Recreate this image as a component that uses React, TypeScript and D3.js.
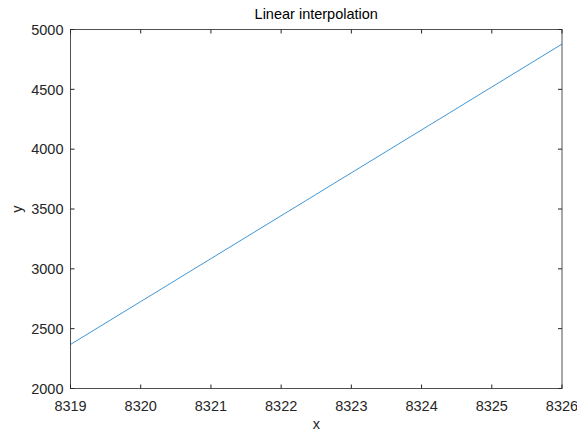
import React from 'react';
import * as d3 from 'd3';

const xValues = [8319, 8326];
const yValues = [2368, 4878];
const xTicks = [8319, 8320, 8321, 8322, 8323, 8324, 8325, 8326];
const yTicks = [2000, 2500, 3000, 3500, 4000, 4500, 5000];

export default function App() {
  const width = 577;
  const height = 431;
  const margin = { top: 29.5, right: 15, bottom: 42.5, left: 70.5 };
  const innerWidth = width - margin.left - margin.right;
  const innerHeight = height - margin.top - margin.bottom;

  const x = d3.scaleLinear().domain([8319, 8326]).range([0, innerWidth]);
  const y = d3.scaleLinear().domain([2000, 5000]).range([innerHeight, 0]);

  const line = d3.line<number>()
    .x((_, i) => x(xValues[i]))
    .y(d => y(d));

  const axisColor = '#262626';
  const font = '"Liberation Sans", Arial, sans-serif';
  const tickLen = 4;

  return (
    <svg width={width} height={height} style={{ position: 'absolute', left: 0, top: 0, background: '#fff' }}>
      <g transform={`translate(${margin.left},${margin.top})`} fontFamily={font}>
        <path d={line(yValues) || ''} fill="none" stroke="#2a8ad0" strokeWidth={0.9} />
        <rect x={0} y={0} width={innerWidth} height={innerHeight} fill="none" stroke={axisColor} strokeWidth={1} opacity={0.8} />
        {xTicks.map(t => (
          <g key={'x' + t}>
            <line x1={x(t)} x2={x(t)} y1={innerHeight} y2={innerHeight - tickLen} stroke={axisColor} />
            <line x1={x(t)} x2={x(t)} y1={0} y2={tickLen} stroke={axisColor} />
            <text x={x(t)} y={innerHeight + 22} textAnchor="middle" fontSize={14.5} fill={axisColor}>{t}</text>
          </g>
        ))}
        {yTicks.map(t => (
          <g key={'y' + t}>
            <line x1={0} x2={tickLen} y1={y(t)} y2={y(t)} stroke={axisColor} />
            <line x1={innerWidth} x2={innerWidth - tickLen} y1={y(t)} y2={y(t)} stroke={axisColor} />
            <text x={-7} y={y(t)} dy="0.36em" textAnchor="end" fontSize={14.5} fill={axisColor}>{t}</text>
          </g>
        ))}
        <text x={innerWidth / 2} y={-11} textAnchor="middle" fontSize={14.5} fill="#000">Linear interpolation</text>
        <text x={innerWidth / 2} y={innerHeight + 40} textAnchor="middle" fontSize={14.5} fill={axisColor}>x</text>
        <text transform={`translate(-49,${innerHeight / 2}) rotate(-90)`} textAnchor="middle" fontSize={14.5} fill={axisColor}>y</text>
      </g>
    </svg>
  );
}
